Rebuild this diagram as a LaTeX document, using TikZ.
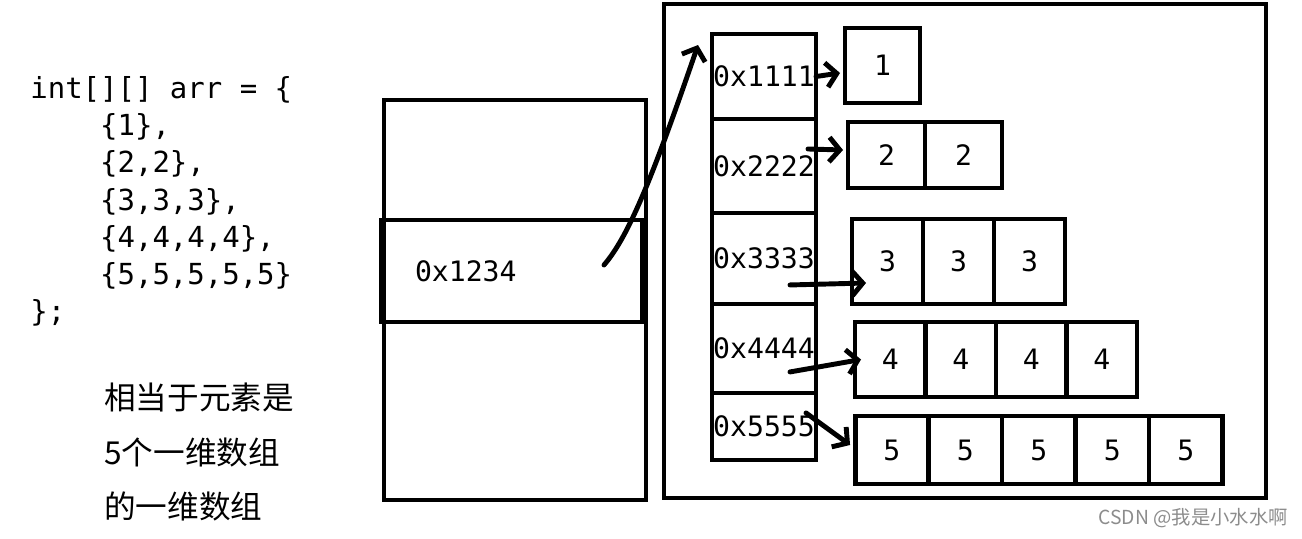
\documentclass[tikz,border=0pt]{standalone}
\usepackage{fontspec}
\setmonofont{DejaVu Sans Mono}
\newfontfamily\cjk{Noto Sans CJK SC}
\usetikzlibrary{positioning}
\usetikzlibrary{arrows.meta}
\tikzset{
  memnode/.style = {rectangle, draw=black, inner sep=0pt, outer sep=0pt,
    font=\ttfamily\fontsize{16}{19}\selectfont},
  mem_box/.style = {memnode, line width=2.4pt},% pile et tas
  addr_cell/.style = {memnode, line width=2.4pt, minimum width=2.08cm},% case d'adresse
  elem_cell/.style = {memnode, line width=2.8pt},% case d'un sous-tableau
  code_text/.style = {anchor=north west, align=left, inner sep=0pt,
    font=\ttfamily\fontsize{16.5}{21.2}\selectfont},% code java
  note_text/.style = {anchor=north west, align=left, inner sep=0pt,
    font=\cjk\fontsize{18}{30.9}\selectfont},% remarque
  hand_arrow/.style = {line width=2.8pt, line cap=round,
    -{Straight Barb[length=6pt,width=14pt]}}% fleche a main levee
}

\begin{document}
\begin{tikzpicture}[x=0.02cm, y=-0.02cm]
  \tikzstyle{row 1}=[elem_cell, minimum width=1.5cm, minimum height=1.5cm]
  \tikzstyle{row 2}=[elem_cell, minimum width=1.54cm, minimum height=1.32cm]
  \tikzstyle{row 3}=[elem_cell, minimum width=1.42cm, minimum height=1.7cm]
  \tikzstyle{row 4}=[elem_cell, minimum width=1.41cm, minimum height=1.5cm]
  \tikzstyle{row 5}=[elem_cell, minimum width=1.47cm, minimum height=1.36cm]
  \useasboundingbox (0,0) rectangle (1302,538);

  \node [code_text] (code) at (30,76) {int[][] arr = \{\\
    \hphantom{0000}\{1\},\\
    \hphantom{0000}\{2,2\},\\
    \hphantom{0000}\{3,3,3\},\\
    \hphantom{0000}\{4,4,4,4\},\\
    \hphantom{0000}\{5,5,5,5,5\}\\
    \};};
  \node [note_text] (note) at (104,383) {相当于元素是\\5个一维数组\\的一维数组};

  % pile
  \node [mem_box, minimum width=5.24cm, minimum height=8cm] (stack) at (515,300) {};
  \node [mem_box, minimum height=2.04cm, text width=3.86cm, inner xsep=0.68cm,
    align=left] (slot) at (511.5,271) {0x1234};

  % tas
  \node [mem_box, minimum width=12.04cm, minimum height=9.88cm] (heap) at (965,251) {};
  \node [addr_cell, minimum height=1.7cm] (a1) at (764,76.5) {0x1111};
  \node [addr_cell, minimum height=1.88cm, below=0pt of a1] (a2) {0x2222};
  \node [addr_cell, minimum height=1.82cm, below=0pt of a2] (a3) {0x3333};
  \node [addr_cell, minimum height=1.78cm, below=0pt of a3] (a4) {0x4444};
  \node [addr_cell, minimum height=1.34cm, below=0pt of a4] (a5) {0x5555};

  \node [row 1] (c11) at (882.5,65.5) {1};
  \node [row 2] (c21) at (886.5,155) {2};
  \node [row 2, right=0pt of c21] (c22) {2};
  \node [row 3] (c31) at (887.5,261.5) {3};
  \node [row 3, right=0pt of c31] (c32) {3};
  \node [row 3, right=0pt of c32] (c33) {3};
  \node [row 4] (c41) at (890.25,359.5) {4};
  \node [row 4, right=0pt of c41] (c42) {4};
  \node [row 4, right=0pt of c42] (c43) {4};
  \node [row 4, right=0pt of c43] (c44) {4};
  \node [row 5] (c51) at (891.8,450) {5};
  \node [row 5, right=0pt of c51] (c52) {5};
  \node [row 5, right=0pt of c52] (c53) {5};
  \node [row 5, right=0pt of c53] (c54) {5};
  \node [row 5, right=0pt of c54] (c55) {5};

  % fleches
  \draw [hand_arrow] ([xshift=-0.76cm,yshift=0.12cm]slot.east)
    .. controls (630,235) and (655,170) .. ([xshift=-0.28cm,yshift=-0.22cm]a1.north west);
  \draw [hand_arrow] (a1.east) -- ([xshift=-0.1cm,yshift=-0.15cm]c11.west);
  \draw [hand_arrow] ([xshift=-0.16cm,yshift=0.34cm]a2.east) -- ([xshift=-0.1cm,yshift=0.1cm]c21.west);
  \draw [hand_arrow] ([xshift=-0.52cm,yshift=0.38cm]a3.south east) -- ([xshift=0.28cm,yshift=0.42cm]c31.south west);
  \draw [hand_arrow] ([xshift=-0.52cm,yshift=0.42cm]a4.south east) -- ([xshift=0.12cm]c41.west);
  \draw [hand_arrow] ([xshift=-0.2cm,yshift=-0.4cm]a5.north east) -- ([xshift=-0.1cm,yshift=0.1cm]c51.west);

  \node [anchor=east, inner sep=0pt, text=black!45, font=\cjk\fontsize{11}{13}\selectfont]
    (mark) at (1288,518) {CSDN @我是小水水啊};
\end{tikzpicture}
\end{document}
